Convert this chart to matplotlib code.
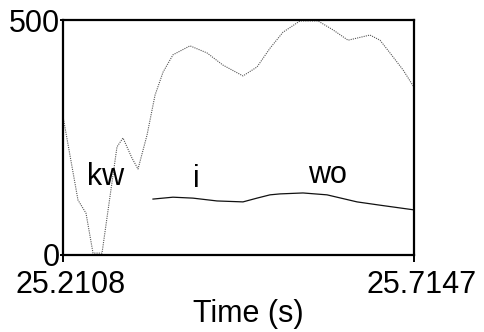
import matplotlib
matplotlib.use("Agg")
import matplotlib.pyplot as plt
import matplotlib.transforms as mtrans

plt.rcParams['font.family'] = ['Liberation Sans', 'DejaVu Sans']

# Pitch (dotted) track
pitch_time = [25.2108, 25.2323, 25.2438, 25.2539, 25.2668, 25.2883, 25.2969, 25.3099,
              25.3185, 25.3314, 25.3429, 25.3544, 25.3687, 25.3931, 25.4175, 25.4405,
              25.4692, 25.4893, 25.5080, 25.5266, 25.5510, 25.5769, 25.5984, 25.6200,
              25.6515, 25.6659, 25.6802, 25.6989, 25.7147]
pitch_vals = [295, 117, 89, 4, 4, 230, 249, 206,
              183, 255, 340, 389, 426, 445, 430, 404,
              381, 400, 440, 474, 498, 498, 479, 457,
              468, 457, 430, 394, 357]

# Intensity (solid) track
inten_time = [25.3400, 25.3687, 25.3974, 25.4319, 25.4692, 25.4893, 25.5080,
              25.5223, 25.5553, 25.5898, 25.6329, 25.6659, 25.7147]
inten_vals = [119, 123, 121, 115, 113, 121, 128, 130, 132, 128, 113, 106, 96]

# Segment labels
seg_labels = ["kw", "i", "wo"]
seg_time = [25.2725, 25.4025, 25.5905]
seg_y = [149, 145, 153]

xlim = (25.2108, 25.7147)
ylim = (0, 500)
xtick_vals = [25.2108, 25.7147]
xtick_labels = ["25.2108", "25.7147"]
ytick_vals = [0, 500]
ytick_labels = ["0", "500"]

FS = 22

fig = plt.figure(figsize=(4.84, 3.32), dpi=100)
ax = fig.add_axes([63/484, 1-255/332, 351/484, 235/332])

ax.plot(pitch_time, pitch_vals, linestyle=(0, (1, 1)), color='#555555', lw=0.8)
ax.plot(inten_time, inten_vals, color='#111111', lw=0.9)

for s, t, y in zip(seg_labels, seg_time, seg_y):
    ax.text(t, y, s, ha='center', va='baseline', fontsize=FS)

ax.set_xlim(*xlim)
ax.set_ylim(*ylim)
for sp in ax.spines.values():
    sp.set_linewidth(1.6)
    sp.set_color('black')

ax.set_yticks(ytick_vals)
ax.set_yticklabels(ytick_labels, fontsize=FS)
ax.tick_params(axis='y', direction='out', length=2.5, width=1.4, pad=0)

ax.set_xticks(xtick_vals)
ax.set_xticklabels([])
ax.tick_params(axis='x', direction='out', length=5, width=1.4)

trans = mtrans.blended_transform_factory(ax.transData, ax.transAxes)
for v, lab in zip(xtick_vals, xtick_labels):
    ax.text(v, -(293-255)/235, lab, ha='center', va='baseline', fontsize=FS,
            transform=trans + mtrans.ScaledTranslation(8/100, 0, fig.dpi_scale_trans))

ax.text((248-63)/351, -(322-255)/235, "Time (s)", ha='center', va='baseline',
        fontsize=FS, transform=ax.transAxes)

fig.savefig("out.png", dpi=100)
